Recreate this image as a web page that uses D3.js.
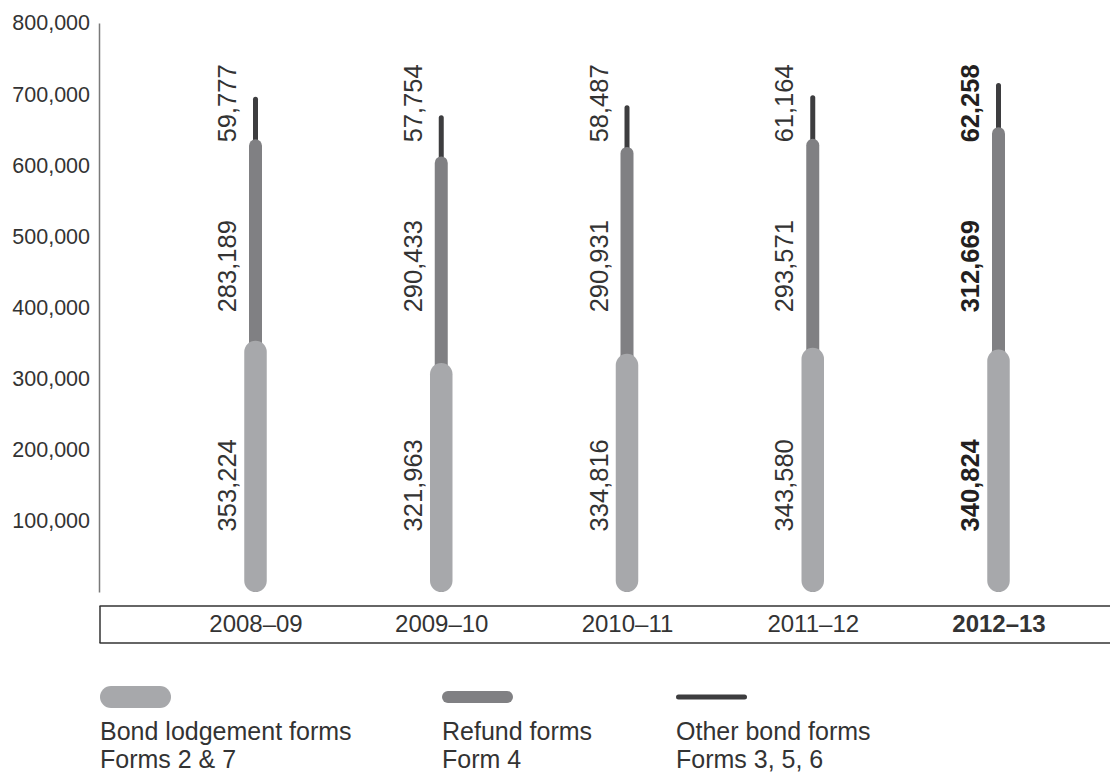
<!DOCTYPE html>
<html>
<head>
<meta charset="utf-8">
<script src="https://cdn.jsdelivr.net/npm/d3@7"></script>
<style>
  body { margin: 0; background: #fff; }
  text { font-family: "Liberation Sans", Arial, sans-serif; font-weight: 400; fill: #333; }
</style>
</head>
<body>
<svg id="chart" width="1110" height="773"></svg>
<script>
// Bond forms processed, by financial year
const years = ["2008–09", "2009–10", "2010–11", "2011–12", "2012–13"];
const lodgementForms = [353224, 321963, 334816, 343580, 340824];
const refundForms = [283189, 290433, 290931, 293571, 312669];
const otherForms = [59777, 57754, 58487, 61164, 62258];
const yTicks = [100000, 200000, 300000, 400000, 500000, 600000, 700000, 800000];
const currentYear = "2012–13";

const seriesNames = ["lodgement", "refund", "other"];
const legendTitles = ["Bond lodgement forms", "Refund forms", "Other bond forms"];
const legendSubtitles = ["Forms 2 & 7", "Form 4", "Forms 3, 5, 6"];

const colors = { lodgement: "#a7a8ab", refund: "#808083", other: "#3d3d3f" };
const widths = { lodgement: 22.5, refund: 13, other: 5 };
// vertical centre (in data units) of each series' rotated value label
const labelLevel = { lodgement: 150000, refund: 458000, other: 687000 };
const fontStack = "'Liberation Sans', Arial, sans-serif";
const textColor = "#333";
const boldColor = "#231f20";

const rows = years.map((year, i) => ({
  year,
  lodgement: lodgementForms[i],
  refund: refundForms[i],
  other: otherForms[i]
}));

const svg = d3.select("#chart");

const y = d3.scaleLinear().domain([0, 800000]).range([592, 23]);
const x = d3.scalePoint().domain(years).range([255.5, 998.5]);

// y axis
const yAxis = svg.append("g")
  .attr("transform", "translate(99,0)")
  .call(d3.axisLeft(y).tickValues(yTicks).tickSize(0).tickSizeOuter(0).tickPadding(9)
    .tickFormat(d3.format(",")));
yAxis.select(".domain").attr("stroke", "#7a7a7a").attr("stroke-width", 1.5);
yAxis.selectAll("text")
  .style("font-family", fontStack)
  .style("font-size", "21.5px")
  .attr("fill", textColor);

// category strip
const stripTop = 606, stripBottom = 643;
const strip = svg.append("g");
strip.append("line").attr("x1", 99.5).attr("x2", 1110).attr("y1", stripTop).attr("y2", stripTop);
strip.append("line").attr("x1", 99.5).attr("x2", 1110).attr("y1", stripBottom).attr("y2", stripBottom);
strip.append("line").attr("x1", 100).attr("x2", 100).attr("y1", stripTop).attr("y2", stripBottom);
strip.selectAll("line").attr("stroke", "#333").attr("stroke-width", 1.5);

const xAxis = svg.append("g")
  .attr("transform", `translate(0,${stripTop})`)
  .call(d3.axisBottom(x).tickSize(0).tickPadding(9));
xAxis.select(".domain").remove();
xAxis.selectAll("text")
  .style("font-family", fontStack)
  .style("font-size", "24px")
  .style("font-weight", d => d === currentYear ? 700 : 400)
  .attr("fill", d => d === currentYear ? boldColor : textColor);

// stacked pills: each segment runs from the baseline to its cumulative top,
// drawn widest-last so the narrower segments show above
const stack = d3.stack().keys(seriesNames)(rows);
const drawOrder = ["other", "refund", "lodgement"];
drawOrder.forEach(key => {
  const layer = stack.find(s => s.key === key);
  const w = widths[key];
  svg.append("g").selectAll("rect")
    .data(layer)
    .join("rect")
    .attr("x", d => x(d.data.year) - w / 2)
    .attr("width", w)
    .attr("y", d => y(d[1]))
    .attr("height", d => y(0) - y(d[1]))
    .attr("rx", w / 2)
    .attr("ry", w / 2)
    .attr("fill", colors[key]);
});

// rotated value labels
seriesNames.forEach(key => {
  svg.append("g").selectAll("text")
    .data(rows)
    .join("text")
    .attr("transform", d => `translate(${x(d.year) - 19.5},${y(labelLevel[key])}) rotate(-90)`)
    .attr("text-anchor", "middle")
    .style("font-size", "25.5px")
    .style("font-weight", d => d.year === currentYear ? 700 : 400)
    .style("fill", d => d.year === currentYear ? boldColor : textColor)
    .text(d => d3.format(",")(d[key]));
});

// legend
const legendX = [100, 442, 676];
const legendHeights = { lodgement: 22, refund: 12, other: 5 };
const legend = svg.append("g").selectAll("g")
  .data(seriesNames)
  .join("g")
  .attr("transform", (d, i) => `translate(${legendX[i]},0)`);
legend.append("rect")
  .attr("x", 0)
  .attr("width", 71)
  .attr("y", d => 697 - legendHeights[d] / 2)
  .attr("height", d => legendHeights[d])
  .attr("rx", d => legendHeights[d] / 2)
  .attr("fill", d => colors[d]);
legend.append("text")
  .attr("x", 0).attr("y", 739.5)
  .style("font-size", "25px")
  .text((d, i) => legendTitles[i]);
legend.append("text")
  .attr("x", 0).attr("y", 767.5)
  .style("font-size", "25px")
  .text((d, i) => legendSubtitles[i]);
</script>
</body>
</html>
